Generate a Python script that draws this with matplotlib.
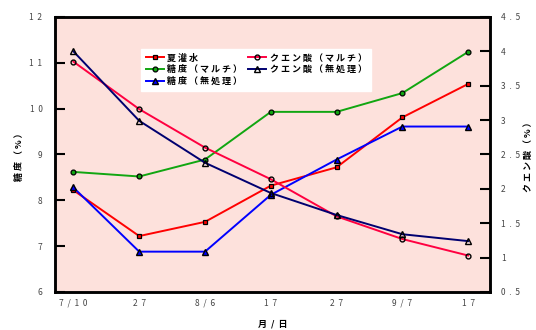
import matplotlib
matplotlib.use("Agg")
import matplotlib.pyplot as plt

plt.rcParams['font.family'] = ['Noto Sans CJK JP', 'DejaVu Sans']

dates = ["7/10", "27", "8/6", "17", "27", "9/7", "17"]

# sugar content (%), left axis
natsu = [8.22, 7.22, 7.53, 8.32, 8.72, 9.81, 10.54]
toudo_multi = [8.62, 8.52, 8.89, 9.93, 9.93, 10.34, 11.24]
toudo_none = [8.28, 6.88, 6.88, 8.12, 8.89, 9.61, 9.61]

# citric acid (%), right axis
citric_multi = [3.85, 3.16, 2.60, 2.14, 1.60, 1.27, 1.03]
citric_none = [4.00, 2.99, 2.38, 1.94, 1.62, 1.34, 1.24]


def spaced(s, sep="  "):
    return sep.join(s)


x = list(range(len(dates)))
tcol = '#444444'

fig = plt.figure(figsize=(5.36, 3.30), dpi=100)
ax = fig.add_axes([0.1026, 0.1152, 0.8114, 0.8333])
ax.set_facecolor('#fde1dc')
ax2 = ax.twinx()

l1, = ax.plot(x, natsu, color='#ff0000', lw=1.4, marker='s', ms=3.5,
              mfc='#ff0000', mec='black', mew=0.9)
l2, = ax.plot(x, toudo_multi, color='#11a611', lw=1.4, marker='o', ms=3.5,
              mfc='#11a611', mec='black', mew=0.9)
l3, = ax.plot(x, toudo_none, color='#0000ff', lw=1.4, marker='^', ms=5,
              mfc='#0000ff', mec='black', mew=1.0)
l4, = ax2.plot(x, citric_multi, color='#ff0040', lw=1.4, marker='o', ms=3.5,
               mfc='none', mec='black', mew=1.0)
l5, = ax2.plot(x, citric_none, color='#000070', lw=1.4, marker='^', ms=5,
               mfc='none', mec='black', mew=1.0)

ax.set_xlim(-0.28, 6.33)
ax.set_ylim(6, 12)
ax2.set_ylim(0.5, 4.5)

ax.set_xticks(x)
ax.set_xticklabels([spaced(d) for d in dates])
ax.set_yticks(range(6, 13))
ax.set_yticklabels([spaced(str(v)) for v in range(6, 13)])
rt = [0.5, 1, 1.5, 2, 2.5, 3, 3.5, 4, 4.5]
ax2.set_yticks(rt)
ax2.set_yticklabels([spaced(f"{v:g}") for v in rt])

ax.tick_params(axis='x', length=0, pad=5, labelsize=6, labelcolor=tcol)
ax.tick_params(axis='y', direction='in', length=7, width=1.5, pad=9,
               labelsize=6, labelcolor=tcol)
ax2.tick_params(axis='y', direction='in', length=7, width=1.5, pad=8,
                labelsize=6, labelcolor=tcol)

for a in (ax, ax2):
    for sp in a.spines.values():
        sp.set_linewidth(1.8)
        sp.set_color('black')

ax.set_ylabel("糖 度 （ % ）", fontsize=6.5, labelpad=4, fontweight='bold')
ax2.set_ylabel("ク エ ン 酸 （ % ）", fontsize=6.5, labelpad=3,
               fontweight='bold', rotation=90)
ax.set_xlabel("月  /  日", fontsize=6.5, labelpad=8, fontweight='bold')

handles = [l1, l2, l3, l4, l5]
labels = ["夏 灌 水", "糖 度 （ マ ル チ ）", "糖 度 （ 無 処 理 ）",
          "ク エ ン 酸 （ マ ル チ ）", "ク エ ン 酸 （ 無 処 理 ）"]
leg = ax2.legend(handles, labels, ncol=2, loc='upper left',
                 bbox_to_anchor=(0.188, 0.9), fontsize=6.5, frameon=True,
                 fancybox=False, edgecolor='white', framealpha=1,
                 handlelength=2.0, columnspacing=0.6, labelspacing=0.3,
                 handletextpad=0.4, borderpad=0.5)
for t in leg.get_texts():
    t.set_fontweight('bold')

fig.savefig("out.png", dpi=100)
